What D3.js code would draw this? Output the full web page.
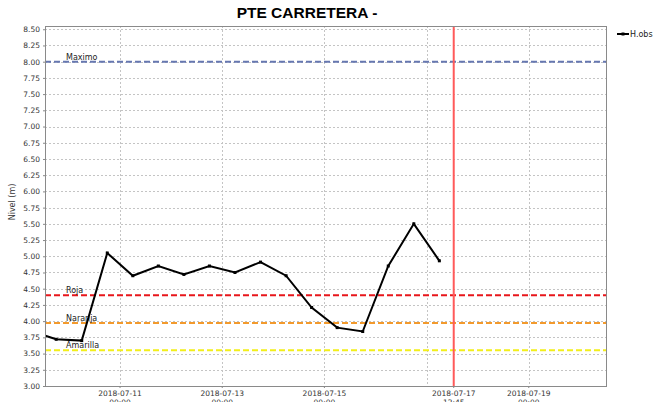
<!DOCTYPE html>
<html>
<head>
<meta charset="utf-8">
<script src="https://cdn.jsdelivr.net/npm/d3@7"></script>
<style>
  html, body { margin: 0; padding: 0; background: #fff; }
  svg { display: block; }
</style>
</head>
<body>
<svg id="chart" width="656" height="402"></svg>
<script>
// Observed water level, sampled every 12 hours
const obsTimes = [
  "2018-07-09T06:00", "2018-07-09T18:00", "2018-07-10T06:00", "2018-07-10T18:00",
  "2018-07-11T06:00", "2018-07-11T18:00", "2018-07-12T06:00", "2018-07-12T18:00",
  "2018-07-13T06:00", "2018-07-13T18:00", "2018-07-14T06:00", "2018-07-14T18:00",
  "2018-07-15T06:00", "2018-07-15T18:00", "2018-07-16T06:00", "2018-07-16T18:00",
  "2018-07-17T06:00"
];
const obsLevels = [
  3.85, 3.72, 3.70, 5.05,
  4.70, 4.85, 4.72, 4.85,
  4.75, 4.91, 4.70, 4.21,
  3.90, 3.84, 4.85, 5.50,
  4.93
];

// Reference thresholds
const thresholdNames = ["Maximo", "Roja", "Naranja", "Amarilla"];
const thresholdValues = [8.00, 4.40, 3.97, 3.55];
const thresholdColors = ["#6677b0", "#e8161b", "#f39a2c", "#f2ee1a"];

// Time window and current-time marker
const timeStart = "2018-07-09T12:45";
const timeEnd = "2018-07-20T12:45";
const nowTime = "2018-07-17T12:45";
const nowLabel = ["2018-07-17", "12:45"];

// Axis ticks
const xTickDates = ["2018-07-11", "2018-07-13", "2018-07-15", "2018-07-19"];
const xGridDates = ["2018-07-11", "2018-07-13", "2018-07-15", "2018-07-17", "2018-07-19"];
const yTicks = d3.range(3.0, 8.501, 0.25);

const parse = d3.timeParse("%Y-%m-%dT%H:%M");
const parseDay = d3.timeParse("%Y-%m-%d");

const svg = d3.select("#chart");
const margin = { left: 45, right: 49, top: 26, bottom: 16 };
const W = 656, H = 402;
const x0 = margin.left, x1 = W - margin.right;
const y0 = margin.top, y1 = H - margin.bottom;

const x = d3.scaleTime().domain([parse(timeStart), parse(timeEnd)]).range([x0, x1]);
const y = d3.scaleLinear().domain([3.0, 8.55]).range([y1, y0]);

const font = "'DejaVu Sans', Verdana, sans-serif";

// Title
svg.append("text")
  .attr("x", 307).attr("y", 18)
  .attr("text-anchor", "middle")
  .attr("font-family", "'Liberation Sans', Arial, sans-serif")
  .attr("font-weight", "bold")
  .attr("font-size", 15.5)
  .attr("fill", "#000")
  .text("PTE CARRETERA -");

svg.append("clipPath").attr("id", "plotClip")
  .append("rect").attr("x", x0).attr("y", y0).attr("width", x1 - x0).attr("height", y1 - y0);

// Grid
const grid = svg.append("g");
grid.selectAll("line.h").data(yTicks).join("line")
  .attr("x1", x0).attr("x2", x1)
  .attr("y1", d => Math.round(y(d)) + 0.5).attr("y2", d => Math.round(y(d)) + 0.5)
  .attr("stroke", "#c4c4c4").attr("stroke-width", 1).attr("stroke-dasharray", "2,2");
grid.selectAll("line.v").data(xGridDates.map(parseDay)).join("line")
  .attr("y1", y0).attr("y2", y1)
  .attr("x1", d => Math.round(x(d)) + 0.5).attr("x2", d => Math.round(x(d)) + 0.5)
  .attr("stroke", "#c4c4c4").attr("stroke-width", 1).attr("stroke-dasharray", "2,2");

// Threshold lines
const th = svg.append("g").attr("clip-path", "url(#plotClip)");
thresholdValues.forEach((v, i) => {
  th.append("line")
    .attr("x1", x0).attr("x2", x1)
    .attr("y1", y(v)).attr("y2", y(v))
    .attr("stroke", thresholdColors[i]).attr("stroke-width", 2)
    .attr("stroke-dasharray", "6,3");
  svg.append("text")
    .attr("x", x0 + 21).attr("y", y(v) - 2)
    .attr("font-family", font).attr("font-size", 8)
    .attr("fill", "#222")
    .text(thresholdNames[i]);
});

// Current-time marker
svg.append("line")
  .attr("x1", x(parse(nowTime))).attr("x2", x(parse(nowTime)))
  .attr("y1", y0).attr("y2", y1)
  .attr("stroke", "#ff5a5a").attr("stroke-width", 2);

// Observed series
const obs = obsTimes.map((t, i) => ({ t: parse(t), v: obsLevels[i] }));
const line = d3.line().x(d => x(d.t)).y(d => y(d.v));
const series = svg.append("g").attr("clip-path", "url(#plotClip)");
series.append("path")
  .datum(obs)
  .attr("d", line)
  .attr("fill", "none")
  .attr("stroke", "#000")
  .attr("stroke-width", 2)
  .attr("stroke-linejoin", "miter");
series.selectAll("rect.pt").data(obs).join("rect")
  .attr("x", d => x(d.t) - 1.5).attr("y", d => y(d.v) - 1.5)
  .attr("width", 3).attr("height", 3)
  .attr("fill", "#000");

// Plot frame
svg.append("rect")
  .attr("x", x0 + 0.5).attr("y", y0 + 0.5)
  .attr("width", x1 - x0 - 1).attr("height", y1 - y0)
  .attr("fill", "none").attr("stroke", "#8a8a8a").attr("stroke-width", 1);

// Y axis
const yAxis = d3.axisLeft(y).tickValues(yTicks).tickFormat(d3.format(".2f")).tickSize(2).tickPadding(3);
const yg = svg.append("g").attr("transform", `translate(${x0},0)`).call(yAxis);
yg.select(".domain").remove();
yg.selectAll("line").attr("stroke", "#888");
yg.selectAll("text").attr("font-family", font).attr("font-size", 7.5).attr("fill", "#333");

svg.append("text")
  .attr("transform", `translate(15,${(y0 + y1) / 2 - 4}) rotate(-90)`)
  .attr("text-anchor", "middle")
  .attr("font-family", font).attr("font-size", 8)
  .attr("fill", "#333")
  .text("Nivel (m)");

// X axis: regular date ticks plus the current-time tick
const xTickData = xTickDates.map(d => ({ t: parseDay(d), lines: [d, "00:00"] }))
  .concat([{ t: parse(nowTime), lines: nowLabel }]);
const xg = svg.append("g").attr("transform", `translate(0,${y1})`);
const xt = xg.selectAll("g.tick").data(xTickData).join("g")
  .attr("transform", d => `translate(${x(d.t)},0)`);
xt.append("line").attr("y1", 0).attr("y2", 2).attr("stroke", "#888");
xt.each(function (d) {
  const g = d3.select(this);
  d.lines.forEach((s, i) => {
    g.append("text")
      .attr("y", 10 + i * 9)
      .attr("text-anchor", "middle")
      .attr("font-family", font).attr("font-size", 7.5)
      .attr("fill", "#333")
      .text(s);
  });
});

// Legend
const lg = svg.append("g").attr("transform", `translate(${x1 + 10},34)`);
lg.append("line").attr("x1", 0).attr("x2", 12).attr("y1", 0).attr("y2", 0)
  .attr("stroke", "#000").attr("stroke-width", 2);
lg.append("rect").attr("x", 4.5).attr("y", -1.5).attr("width", 3).attr("height", 3).attr("fill", "#000");
lg.append("text").attr("x", 13).attr("y", 3)
  .attr("font-family", font).attr("font-size", 8)
  .attr("fill", "#222")
  .text("H.obs");
</script>
</body>
</html>
